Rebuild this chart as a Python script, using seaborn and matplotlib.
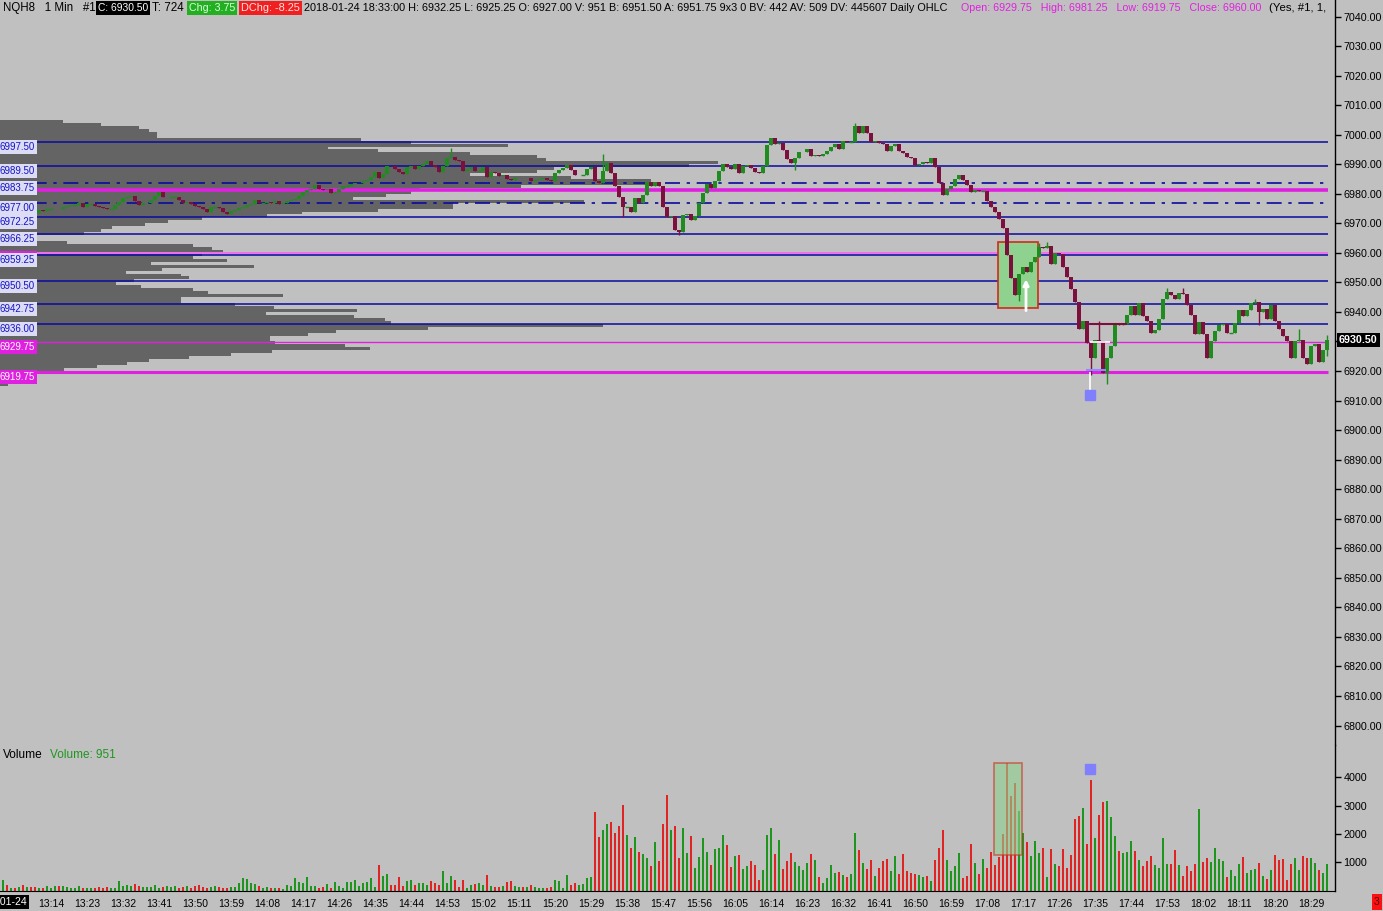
import matplotlib
matplotlib.use("Agg")
import matplotlib.pyplot as plt
import matplotlib.patches as mpatches
import matplotlib.transforms as mtrans
import numpy as np
import pandas as pd
import seaborn as sns

# ---- values: NQH8, 1 min bars, 2018-01-24 13:02 .. 18:33 ----
session_start = "2018-01-24 13:02"
first_open = 6974.00
closes = [
    6974.0, 6973.5, 6974.25, 6973.75, 6974.0, 6973.5, 6974.0, 6973.75, 6973.5, 6974.5,
    6974.25, 6974.75, 6974.75, 6975.0, 6974.75, 6975.5, 6976.0, 6976.25, 6976.25, 6976.75,
    6975.5, 6976.5, 6976.5, 6976.0, 6975.5, 6975.25, 6975.0, 6975.0, 6976.25, 6977.25,
    6978.5, 6979.0, 6979.25, 6977.5, 6976.25, 6976.75, 6977.0, 6978.0, 6979.25, 6980.5,
    6978.75, 6979.0, 6979.0, 6979.0, 6977.75, 6977.0, 6977.25, 6976.5, 6976.0, 6975.5,
    6975.0, 6974.0, 6975.5, 6975.5, 6975.25, 6974.0, 6973.25, 6974.25, 6974.5, 6975.25,
    6975.5, 6976.25, 6976.5, 6977.75, 6977.0, 6977.0, 6977.25, 6977.0, 6977.5, 6976.5,
    6977.0, 6977.5, 6977.75, 6978.25, 6979.25, 6980.5, 6981.25, 6981.75, 6983.0, 6981.5,
    6981.25, 6981.5, 6980.25, 6980.5, 6981.75, 6982.5, 6982.5, 6983.25, 6983.5, 6983.75,
    6984.25, 6984.5, 6985.75, 6987.25, 6985.5, 6986.75, 6989.5, 6989.25, 6988.5, 6987.5,
    6986.75, 6989.0, 6989.5, 6988.25, 6989.25, 6990.0, 6991.25, 6989.75, 6989.0, 6987.5,
    6989.5, 6992.0, 6992.5, 6991.5, 6991.25, 6987.75, 6988.25, 6989.0, 6987.75, 6987.75,
    6989.0, 6985.75, 6987.5, 6987.0, 6986.0, 6986.5, 6985.0, 6984.75, 6985.25, 6985.5,
    6985.25, 6985.5, 6984.25, 6984.5, 6985.0, 6985.25, 6984.5, 6984.25, 6987.0, 6988.0,
    6988.75, 6989.75, 6988.0, 6986.25, 6986.5, 6986.5, 6988.5, 6989.0, 6984.25, 6983.5,
    6987.75, 6990.5, 6987.0, 6982.5, 6979.0, 6975.5, 6975.5, 6973.75, 6978.5, 6977.0,
    6979.5, 6984.0, 6982.5, 6984.0, 6982.5, 6975.5, 6972.25, 6972.5, 6967.75, 6967.0,
    6972.75, 6973.0, 6971.0, 6972.5, 6977.0, 6980.25, 6983.25, 6982.0, 6984.25, 6987.75,
    6990.0, 6989.0, 6988.5, 6990.0, 6987.0, 6989.25, 6989.75, 6988.75, 6987.25, 6987.0,
    6989.25, 6996.5, 6998.75, 6997.0, 6997.25, 6994.75, 6991.75, 6990.5, 6992.25, 6994.0,
    6994.25, 6995.0, 6992.75, 6993.25, 6992.75, 6993.5, 6994.5, 6996.0, 6997.0, 6995.25,
    6997.75, 6997.5, 6997.5, 7003.0, 7000.5, 7003.0, 7000.5, 6997.5, 6997.75, 6997.25,
    6996.75, 6994.5, 6996.25, 6996.75, 6994.5, 6993.75, 6992.5, 6992.25, 6989.75, 6990.0,
    6990.75, 6990.5, 6992.0, 6989.0, 6983.5, 6979.5, 6981.75, 6982.75, 6985.0, 6986.25,
    6984.5, 6983.0, 6980.5, 6981.25, 6981.0, 6981.0, 6977.5, 6975.5, 6974.0, 6971.5,
    6968.25, 6959.25, 6951.5, 6945.75, 6953.0, 6955.25, 6953.5, 6957.0, 6958.5, 6962.0,
    6961.5, 6962.25, 6956.25, 6960.0, 6959.75, 6955.25, 6951.75, 6947.75, 6943.25, 6934.25,
    6937.0, 6929.5, 6924.5, 6930.5, 6930.0, 6919.5, 6924.5, 6928.5, 6935.75, 6935.5,
    6936.0, 6939.0, 6942.0, 6939.0, 6943.0, 6938.75, 6937.0, 6933.0, 6934.0, 6937.75,
    6944.5, 6946.75, 6945.75, 6944.5, 6946.25, 6946.0, 6942.5, 6939.0, 6932.5, 6936.5,
    6932.5, 6924.5, 6930.0, 6933.5, 6935.5, 6936.0, 6933.0, 6933.0, 6936.25, 6940.75,
    6938.5, 6940.75, 6943.0, 6943.5, 6940.0, 6941.0, 6937.75, 6942.5, 6937.0, 6934.25,
    6932.0, 6930.0, 6924.5, 6930.0, 6930.5, 6924.25, 6922.5, 6928.5, 6929.0, 6923.0,
    6927.0, 6930.5,
]
volumes = [
    377, 200, 82, 106, 141, 200, 141, 141, 141, 82,
    82, 165, 106, 165, 165, 165, 141, 106, 106, 177,
    106, 106, 106, 106, 141, 106, 141, 106, 106, 340,
    177, 200, 177, 236, 165, 141, 141, 141, 200, 106,
    141, 165, 141, 165, 106, 141, 165, 106, 165, 200,
    141, 106, 141, 165, 141, 106, 106, 141, 141, 259,
    459, 412, 283, 224, 165, 106, 141, 106, 106, 106,
    59, 200, 165, 436, 318, 283, 483, 165, 165, 106,
    141, 224, 106, 318, 177, 106, 306, 306, 377, 177,
    259, 306, 459, 141, 907, 518, 589, 200, 200, 483,
    165, 353, 377, 200, 271, 271, 200, 342, 271, 200,
    695, 271, 518, 377, 141, 377, 106, 200, 224, 271,
    200, 553, 165, 130, 130, 165, 306, 342, 165, 130,
    130, 130, 200, 130, 82, 94, 94, 130, 377, 342,
    94, 553, 200, 271, 200, 236, 448, 483, 2792, 1897,
    2144, 2344, 2415, 2038, 2285, 3027, 1967, 1508, 1897, 1366,
    1296, 1154, 872, 1720, 1048, 2356, 3381, 2144, 2285, 1154,
    2215, 1331, 1932, 801, 1190, 1861, 1366, 907, 1472, 1508,
    1967, 1614, 836, 1225, 1260, 766, 872, 1048, 907, 377,
    730, 1967, 2215, 1296, 1790, 766, 1048, 1331, 1013, 872,
    730, 978, 1296, 1084, 483, 271, 448, 907, 624, 660,
    554, 483, 589, 2038, 1437, 978, 766, 1084, 518, 801,
    1048, 1119, 695, 1225, 589, 1296, 695, 624, 589, 553,
    483, 518, 342, 1084, 1508, 2144, 1084, 695, 872, 1331,
    448, 518, 1649, 978, 589, 1119, 801, 1366, 907, 1190,
    2000, 4494, 3340, 3800, 2811, 2035, 1717, 1223, 1752, 1329,
    1505, 482, 1470, 941, 870, 1470, 800, 1258, 2528, 2634,
    2916, 1646, 3904, 1858, 2670, 3128, 3163, 2599, 1929, 1400,
    1329, 1364, 1752, 1400, 1082, 870, 1047, 1223, 906, 800,
    1858, 941, 941, 1435, 906, 518, 870, 694, 941, 2881,
    1011, 1152, 1011, 1505, 1117, 1047, 482, 729, 517, 941,
    1188, 623, 729, 764, 976, 517, 412, 729, 1258, 1082,
    1117, 376, 941, 1152, 729, 1223, 1152, 1152, 976, 729,
    623, 951,
]
# visible wicks beyond the bodies (bar number -> price)
wick_high = {112: 6995.50, 150: 6993.50, 213: 7004.00, 259: 6963.50, 261: 6963.75,
             274: 6937.00, 291: 6948.00, 295: 6948.00, 313: 6944.50, 324: 6934.25,
             331: 6932.25}
wick_low = {155: 6972.25, 169: 6966.00, 198: 6988.00, 254: 6943.75, 272: 6918.50,
            276: 6915.75, 314: 6935.50, 331: 6925.25}

# volume profile, 1 point rows from 7004 down to 6915 (relative volume)
profile_top = 7004
profile_vol = [
    75, 120, 165, 177, 187, 187, 430, 490, 605, 390,
    450, 560, 640, 650, 855, 820, 660, 640, 560, 680,
    775, 775, 620, 500, 490, 460, 420, 695, 540, 540,
    450, 360, 318, 240, 200, 173, 133, 120, 100, 40,
    40, 80, 230, 252, 266, 240, 230, 270, 180, 303,
    193, 150, 216, 225, 160, 138, 168, 230, 248, 337,
    216, 216, 280, 326, 425, 317, 422, 459, 466, 718,
    510, 400, 367, 321, 321, 328, 411, 441, 324, 275,
    225, 177, 151, 115, 76, 55, 37, 30, 18, 9,
]

blue_levels = [6997.50, 6989.50, 6972.25, 6966.25, 6959.25, 6950.50, 6942.75, 6936.00]
dashdot_levels = [6983.75, 6977.00]
daily_open, daily_high, daily_low, daily_close = 6929.75, 6981.25, 6919.75, 6960.00

tick_labels = ["13:14", "13:23", "13:32", "13:41", "13:50", "13:59", "14:08", "14:17",
               "14:26", "14:35", "14:44", "14:53", "15:02", "15:11", "15:20", "15:29",
               "15:38", "15:47", "15:56", "16:05", "16:14", "16:23", "16:32", "16:41",
               "16:50", "16:59", "17:08", "17:17", "17:26", "17:35", "17:44", "17:53",
               "18:02", "18:11", "18:20", "18:29"]
price_ticks = list(range(6800, 7041, 10))
volume_ticks = [1000, 2000, 3000, 4000]

# highlight box and markers (bar number / price)
box_bars, box_prices = (248.75, 258.75), (6941.25, 6963.75)
box_vol_bars, box_vols = (247.75, 254.75), (1250, 4510)
arrow_bar, arrow_prices = 255.75, (6939.5, 6952.0)
marker_bar, marker_price, marker_vol = 271.75, 6912.0, 4300

# ---- frame ----
df = pd.DataFrame({"time": pd.date_range(session_start, periods=len(closes), freq="min"),
                   "close": closes, "volume": volumes})
df["bar"] = np.arange(len(df))
df["open"] = [first_open] + closes[:-1]
df["high"] = df[["open", "close"]].max(axis=1)
df["low"] = df[["open", "close"]].min(axis=1)
for k, v in wick_high.items():
    df.loc[k, "high"] = v
for k, v in wick_low.items():
    df.loc[k, "low"] = v
df["dir"] = np.where(df["close"] >= df["open"], "up", "down")

UP, DOWN = "#1f8c1f", "#7d0f3c"
VUP, VDOWN = "#1e961e", "#e02424"
BG = "#c0c0c0"
BLUE = "#0a0aa0"
MAG = "#e020e0"

sns.set_style("white")
plt.rcParams["font.family"] = ["Liberation Sans", "DejaVu Sans"]

W, H = 1383, 911
fig = plt.figure(figsize=(W / 100, H / 100), dpi=100, facecolor=BG)
renderer = fig.canvas.get_renderer()


def fit(t, width_px):
    # scale a text so that it spans the width seen in the reference
    w = t.get_window_extent(renderer).width
    t.set_fontsize(t.get_fontsize() * width_px / w)
    return t.get_fontsize()


def frac(x0, y0, x1, y1):
    return [x0 / W, 1 - y1 / H, (x1 - x0) / W, (y1 - y0) / H]


# font sizes fitted to reference label widths
probe = fig.text(0, 0, "7040.00", fontsize=10)
axis_fs = fit(probe, 39)
probe.set_text("16:50")
probe.set_fontsize(10)
time_fs = fit(probe, 26)
probe.set_text("6997.50")
probe.set_fontsize(10)
level_fs = fit(probe, 35)
probe.remove()

ax = fig.add_axes(frac(0, 0, 1335, 745))
axv = fig.add_axes(frac(0, 745, 1335, 890.7))
for a in (ax, axv):
    a.set_facecolor(BG)
    for s in ("left", "top", "bottom"):
        a.spines[s].set_visible(False)
    a.spines["right"].set_color("black")
    a.spines["right"].set_linewidth(1)

xlim = (-0.75, 333.0)
ax.set_xlim(*xlim)
ax.set_ylim(6793.4, 7045.6)

# volume profile on the left (max row = 718 px wide, 4 px per bar)
prof_prices = [profile_top - k for k in range(len(profile_vol))]
prof_len = np.array(profile_vol) / max(profile_vol) * 718 / 4
ax.barh(prof_prices, prof_len, left=-0.75, height=1, align="edge",
        color="#646464", linewidth=0, zorder=1)

# level lines
x_end = 331.3
for lv in blue_levels:
    ax.hlines(lv, -0.75, x_end, color=BLUE, lw=1.1, zorder=2)
for lv in dashdot_levels:
    ax.hlines(lv, -0.75, x_end, color=BLUE, lw=1.2, linestyles=(0, (9, 4, 2, 4)), zorder=2)
ax.hlines(daily_high, -0.75, x_end, color=MAG, lw=2.6, zorder=2)
ax.hlines(daily_low, -0.75, x_end, color=MAG, lw=2.2, zorder=2)
ax.hlines(daily_open, -0.75, x_end, color=MAG, lw=1.0, zorder=2)
ax.hlines(daily_close, -0.75, x_end, color="#f070f0", lw=1.4, zorder=2)

# highlight box
ax.add_patch(mpatches.Rectangle((box_bars[0], box_prices[0]), box_bars[1] - box_bars[0],
                                box_prices[1] - box_prices[0], fc="#8fd28f", ec="#d02a1a",
                                lw=1.2, zorder=3))

# candles
col = np.where(df["dir"] == "up", UP, DOWN)
ax.vlines(df["bar"], df["low"], df["high"], colors=col, lw=1, zorder=4)
ax.bar(df["bar"], df["close"] - df["open"], bottom=df["open"], width=0.8,
       color=col, linewidth=0, zorder=5)
doji = df[df["close"] == df["open"]]
ax.hlines(doji["close"], doji["bar"] - 0.45, doji["bar"] + 0.45, colors=UP, lw=1, zorder=5)

# markers near the 17:34 low
ax.annotate("", xy=(arrow_bar, arrow_prices[1]), xytext=(arrow_bar, arrow_prices[0]),
            arrowprops=dict(arrowstyle="-|>", color="white", lw=2, mutation_scale=8),
            zorder=6)
ax.vlines(marker_bar, marker_price + 1.5, daily_low, color="white", lw=1.2, zorder=6)
ax.plot(marker_bar, marker_price, marker="s", ms=7, color="#8080ff", zorder=6)
ax.hlines(6935.75, marker_bar, 281.0, color=DOWN, lw=1.5, zorder=6)
ax.hlines(6929.75, marker_bar, 276.75, color="white", lw=1.2, zorder=6)
ax.hlines(6920.25, marker_bar - 1, 275.75, color="#8c8cff", lw=1.5, zorder=6)

# level labels on the left
blend = mtrans.blended_transform_factory(ax.transAxes, ax.transData)
lab = dict(transform=blend, ha="left", va="top", fontsize=level_fs, zorder=8)
ax.text(0.0, daily_close, f"{daily_close:.2f}", color="white",
        bbox=dict(boxstyle="square,pad=0.2", fc=MAG, ec="none"), **lab)
for lv in blue_levels + dashdot_levels:
    ax.text(0.0, lv, f"{lv:.2f}", color="#1414c8",
            bbox=dict(boxstyle="square,pad=0.2", fc="#dcdcf4", ec="none"), **lab)
for lv in (daily_open, daily_low):
    ax.text(0.0, lv, f"{lv:.2f}", color="white",
            bbox=dict(boxstyle="square,pad=0.2", fc=MAG, ec="none"), **lab)

# right price scale (the 6930 label sits under the last-price tag)
last_close = df["close"].iloc[-1]
ax.yaxis.tick_right()
ax.set_yticks(price_ticks)
ax.set_yticklabels(["" if abs(v - last_close) < 3 else f"{v:.2f}" for v in price_ticks])
ax.tick_params(axis="y", direction="out", length=4, width=1, pad=2, labelsize=axis_fs,
               colors="black")
ax.set_xticks([])
ax.text(1339 / 1335, last_close, f"{last_close:.2f}",
        transform=mtrans.blended_transform_factory(ax.transAxes, ax.transData),
        ha="left", va="center", fontsize=axis_fs, fontweight="bold", color="white",
        bbox=dict(boxstyle="square,pad=0.2", fc="black", ec="none"), zorder=9, clip_on=False)

# volume panel
sns.barplot(data=df, x="bar", y="volume", hue="dir", palette={"up": VUP, "down": VDOWN},
            native_scale=True, dodge=False, width=0.7, saturation=1, errorbar=None,
            legend=False, linewidth=0, edgecolor="none", ax=axv, zorder=2)
axv.add_patch(mpatches.Rectangle((box_vol_bars[0], box_vols[0]), box_vol_bars[1] - box_vol_bars[0],
                                 box_vols[1] - box_vols[0], fc="#8fd28f", ec="#d02a1a",
                                 lw=1.2, alpha=0.6, zorder=3))
axv.plot(marker_bar, marker_vol, marker="s", ms=7, color="#8080ff", zorder=4)
axv.set_xlim(*xlim)
axv.set_ylim(0, 5145)
axv.spines["bottom"].set_visible(True)
axv.spines["bottom"].set_color("black")
axv.yaxis.tick_right()
axv.set_yticks(volume_ticks)
axv.set_yticklabels([str(v) for v in volume_ticks])
axv.tick_params(axis="y", direction="out", length=4, width=1, pad=2, labelsize=axis_fs,
                colors="black")
tick_pos = [int(df.index[df["time"].dt.strftime("%H:%M") == t][0]) for t in tick_labels]
axv.set_xticks(tick_pos)
axv.set_xticklabels(tick_labels)
axv.tick_params(axis="x", direction="out", length=4, width=1, pad=2, labelsize=time_fs,
                colors="black")
axv.set_xlabel("")
axv.set_ylabel("")
t1 = fig.text(3 / W, 1 - 755 / H, "Volume", fontsize=10, color="black", va="center", ha="left")
fit(t1, 40)
t2 = fig.text(50 / W, 1 - 755 / H, f"Volume: {volumes[-1]}", fontsize=10, color="#1e961e",
              va="center", ha="left")
fit(t2, 65)

# header line


def header(x0, x1, s, color, bg=None):
    kw = dict(fontsize=10, color=color, va="center", ha="left")
    if bg:
        kw["bbox"] = dict(boxstyle="square,pad=0.15", fc=bg, ec="none")
    t = fig.text(x0 / W, 1 - 8 / H, s, **kw)
    fit(t, x1 - x0)


header(3, 95, "NQH8   1 Min   #1", "black")
header(98, 148, "C: 6930.50", "white", "black")
header(152, 184, "T: 724", "black")
header(189, 235, "Chg: 3.75", "#d8ffd8", "#22b022")
header(241, 300, "DChg: -8.25", "#ffe0e0", "#f02020")
header(304, 949, "2018-01-24 18:33:00 H: 6932.25 L: 6925.25 O: 6927.00 V: 951 B: 6951.50 "
                 "A: 6951.75 9x3 0 BV: 442 AV: 509 DV: 445607 Daily OHLC", "black")
header(961, 1260, f"Open: {daily_open:.2f}   High: {daily_high:.2f}   Low: {daily_low:.2f}   "
                  f"Close: {daily_close:.2f}", MAG)
header(1269, 1326, "(Yes, #1, 1,", "black")

# date stub and corner box
fig.text(27 / W, 1 - 902 / H, "2018-01-24", ha="right", va="center", fontsize=time_fs,
         color="white", bbox=dict(boxstyle="square,pad=0.15", fc="black", ec="none"))
fig.text(1377 / W, 1 - 902 / H, "3", ha="center", va="center", fontsize=time_fs,
         color="#400000", bbox=dict(boxstyle="square,pad=0.25", fc="#ff1010", ec="none"))

fig.savefig("out.png", dpi=100, facecolor=BG)
